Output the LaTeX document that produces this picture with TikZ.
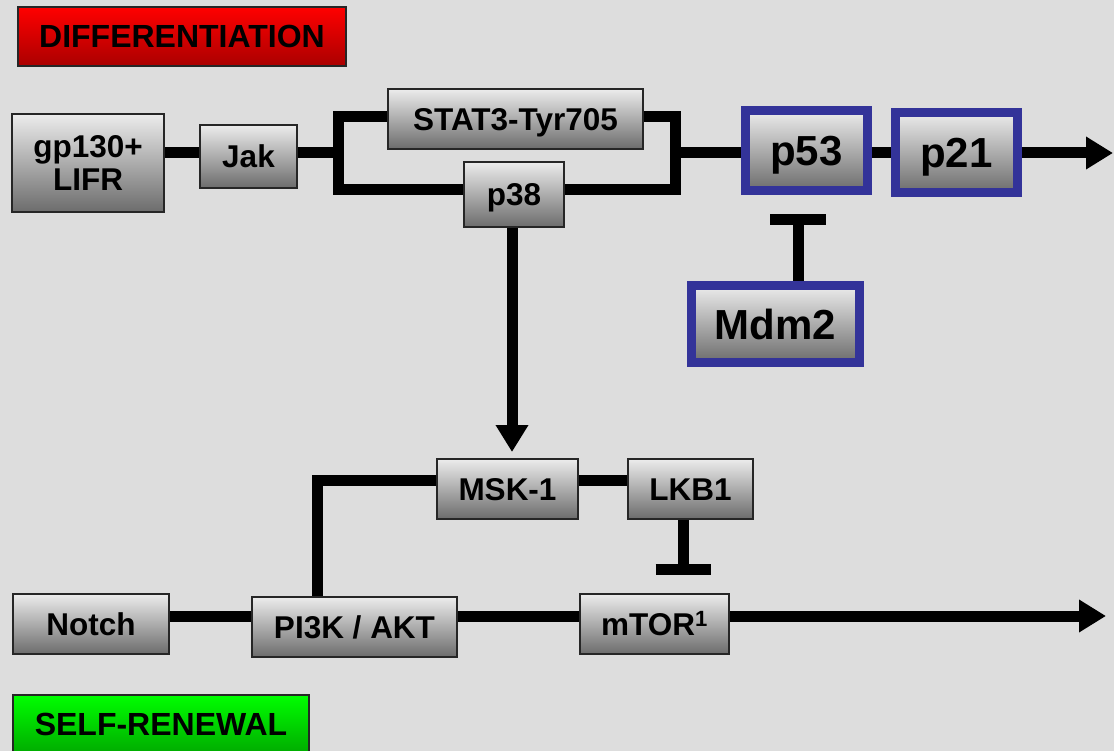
\documentclass[tikz,border=0pt]{standalone}
\usepackage{fontspec}
\setmainfont{Liberation Sans}
\usetikzlibrary{arrows.meta,backgrounds}
\definecolor{bg}{HTML}{DDDDDD}
\definecolor{boxblue}{HTML}{333399}
\definecolor{gtop}{HTML}{ECECEC}
\definecolor{gbot}{HTML}{6C6C6C}
\definecolor{edge}{HTML}{262626}
\definecolor{rtop}{HTML}{FF0000}
\definecolor{rbot}{HTML}{AA0000}
\definecolor{ntop}{HTML}{00FF00}
\definecolor{nbot}{HTML}{00AA00}
\tikzset{
  gbase/.style={draw=edge, line width=1.5pt, top color=gtop, bottom color=gbot,
    font=\bfseries\fontsize{31.5}{33}\selectfont, inner sep=0pt, align=center},
  gbox/.style={gbase, text height=22.6pt, text depth=0pt},
  bbox/.style={draw=boxblue, line width=9pt, top color=gtop, bottom color=gbot,
    font=\bfseries\fontsize{42}{46}\selectfont, inner sep=0pt, text height=30.1pt, text depth=0pt},
  hdr/.style={draw=edge, line width=1.5pt, font=\bfseries\fontsize{32}{34}\selectfont,
    inner sep=0pt, text height=22.9pt, text depth=0pt},
  conn/.style={line width=11pt, black, line join=miter, line cap=butt},
  arr/.style={conn, -{Triangle[length=27pt,width=31pt]}},
}
\begin{document}
\begin{tikzpicture}[x=1pt,y=-1pt]
\useasboundingbox (0,0) rectangle (1114,751);
\begin{pgfonlayer}{background}
  \fill[bg] (0,0) rectangle (1114,751);
\end{pgfonlayer}

% headers
\node[hdr, top color=rtop, bottom color=rbot, minimum width=328pt, minimum height=59pt] (diff) at (182,36.5) {DIFFERENTIATION};
\node[hdr, top color=ntop, bottom color=nbot, minimum width=296pt, minimum height=59pt] (self) at (161,724.5) {SELF-RENEWAL};

% upper pathway
\node[gbase, minimum width=152pt, minimum height=98pt] (gp) at (88,163) {gp130+\\LIFR};
\node[gbox, minimum width=97pt, minimum height=63pt] (jak) at (248.5,156.5) {Jak};
\node[gbox, minimum width=255pt, minimum height=60pt] (stat) at (515.5,119) {STAT3-Tyr705};
\node[gbox, minimum width=100pt, minimum height=65pt] (p38) at (514,194.5) {p38};
\node[bbox, minimum width=122pt, minimum height=80pt] (p53) at (806.5,150.5) {p53};
\node[bbox, minimum width=122pt, minimum height=80pt] (p21) at (956.5,152.5) {p21};
\node[bbox, minimum width=168pt, minimum height=77pt] (mdm) at (775.5,324) {Mdm2};

% lower pathway
\node[gbox, minimum width=141pt, minimum height=60pt] (msk) at (507.5,489) {MSK-1};
\node[gbox, minimum width=125pt, minimum height=60pt] (lkb) at (690.5,489) {LKB1};
\node[gbox, minimum width=156pt, minimum height=60pt] (notch) at (91,624) {Notch};
\node[gbox, minimum width=205pt, minimum height=60pt] (pi3k) at (354.5,627) {PI3K / AKT};
\node[gbox, minimum width=149pt, minimum height=60pt] (mtor) at (654.5,624) {mTOR\textsuperscript{1}};

% helper coordinates
\coordinate (yA) at (0,153);
\coordinate (brTL) at (338,117);
\coordinate (brBR) at (675,190);
\coordinate (endA) at (1113,153);
\coordinate (tP53) at (798,220);
\coordinate (endB) at (512,452);
\coordinate (yM) at (0,480);
\coordinate (cPI) at (317,480);
\coordinate (tMTOR) at (683,569);
\coordinate (yL) at (0,616);
\coordinate (endC) at (1106,616);

\begin{pgfonlayer}{background}
  \draw[conn] (gp.east |- yA) -- (jak.west |- yA);
  \draw[conn] (jak.east |- yA) -- (brTL |- yA);
  \draw[conn] (brTL) rectangle (brBR);
  \draw[conn] (brBR |- yA) -- (p53.west |- yA);
  \draw[conn] (p53.east |- yA) -- (p21.west |- yA);
  \draw[arr] (p21.east |- yA) -- (endA);
  % Mdm2 inhibits p53
  \draw[conn] (tP53 |- mdm.north) -- (tP53);
  \draw[conn] ([xshift=-28pt]tP53) -- ([xshift=28pt]tP53);
  % p38 to MSK-1
  \draw[arr] (p38.south -| endB) -- (endB);
  \draw[conn] (msk.east |- yM) -- (lkb.west |- yM);
  \draw[conn] (msk.west |- yM) -- (cPI) -- (cPI |- pi3k.north);
  % LKB1 inhibits mTOR
  \draw[conn] (tMTOR |- lkb.south) -- (tMTOR);
  \draw[conn] ([xshift=-27.5pt]tMTOR) -- ([xshift=27.5pt]tMTOR);
  % lower line
  \draw[conn] (notch.east |- yL) -- (pi3k.west |- yL);
  \draw[conn] (pi3k.east |- yL) -- (mtor.west |- yL);
  \draw[arr] (mtor.east |- yL) -- (endC);
\end{pgfonlayer}
\end{tikzpicture}
\end{document}
